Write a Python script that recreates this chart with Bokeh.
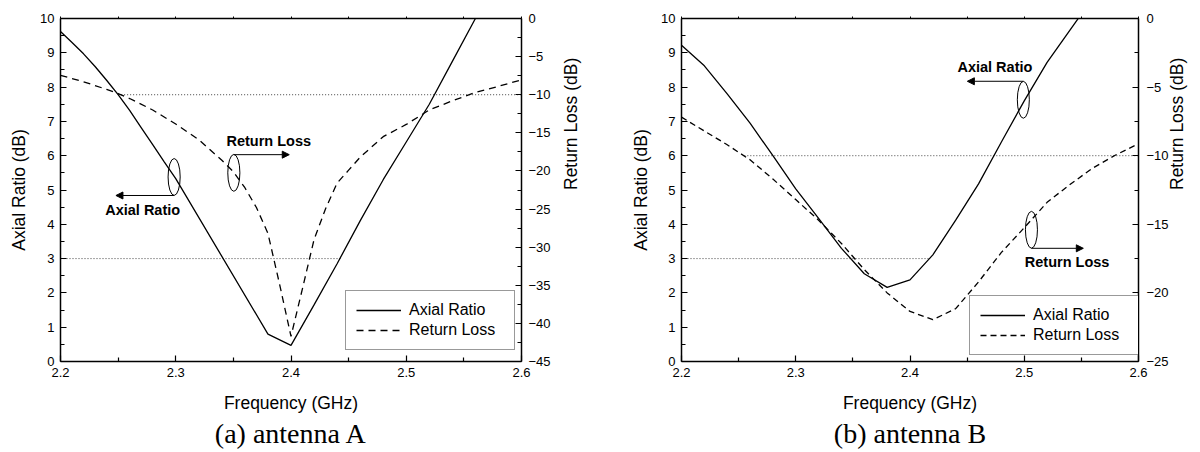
import math
from bokeh.plotting import figure
from bokeh.models import LinearAxis, Range1d, FixedTicker, Arrow, NormalHead, Title
from bokeh.layouts import row
from bokeh.embed import file_html
from bokeh.resources import INLINE
from bokeh.core.properties import value

# ---------------- data: antenna A ----------------
freq_a_ar = [2.20, 2.21, 2.22, 2.23, 2.24, 2.25, 2.26, 2.27, 2.28, 2.29, 2.30,
             2.38, 2.40, 2.42, 2.44, 2.46, 2.48, 2.50, 2.52, 2.54, 2.56]
ar_a = [9.62, 9.3, 8.97, 8.6, 8.2, 7.78, 7.32, 6.82, 6.32, 5.82, 5.33,
        0.8, 0.47, 1.65, 2.85, 4.1, 5.3, 6.4, 7.5, 8.75, 10.0]
freq_a_rl = [2.20, 2.22, 2.24, 2.25, 2.26, 2.28, 2.30, 2.32, 2.34, 2.35, 2.36, 2.37,
             2.38, 2.39, 2.40, 2.41, 2.42, 2.43, 2.44, 2.45, 2.46, 2.48, 2.50, 2.52,
             2.54, 2.56, 2.58, 2.60]
rl_a = [-7.45, -8.3, -9.3, -9.85, -10.5, -12.0, -13.85, -15.9, -18.6, -20.1, -22.2, -24.8,
        -28.2, -34.8, -41.7, -35.4, -29.0, -24.95, -21.6, -19.9, -18.2, -15.5, -13.9, -12.0,
        -10.8, -9.7, -8.9, -8.05]
# reference (dotted) lines A
ref_a_ar_x = [2.2, 2.443]
ref_a_ar_y = [3, 3]
ref_a_rl_x = [2.25, 2.6]
ref_a_rl_y = [-10, -10]

# ---------------- data: antenna B ----------------
freq_b_ar = [2.20, 2.22, 2.24, 2.26, 2.28, 2.30, 2.32, 2.34, 2.36, 2.38, 2.40, 2.42,
             2.44, 2.46, 2.48, 2.50, 2.52, 2.55]
ar_b = [9.22, 8.62, 7.8, 6.95, 6.0, 5.03, 4.17, 3.3, 2.56, 2.16, 2.38, 3.11,
        4.12, 5.18, 6.4, 7.6, 8.72, 10.13]
freq_b_rl = [2.20, 2.22, 2.24, 2.26, 2.28, 2.30, 2.32, 2.34, 2.36, 2.38, 2.40, 2.42,
             2.44, 2.46, 2.48, 2.50, 2.52, 2.54, 2.56, 2.58, 2.60]
rl_b = [-7.19, -8.2, -9.2, -10.3, -11.7, -13.2, -14.7, -16.4, -18.3, -20.0, -21.35, -21.95,
        -21.15, -19.2, -17.05, -15.25, -13.4, -12.1, -10.9, -9.95, -9.13]
ref_b_ar_x = [2.2, 2.418]
ref_b_ar_y = [3, 3]
ref_b_rl_x = [2.255, 2.6]
ref_b_rl_y = [-10, -10]

# ---------------- ticks ----------------
x_ticks = [2.2, 2.3, 2.4, 2.5, 2.6]
x_minor = [2.25, 2.35, 2.45, 2.55]
top_ticks = [2.2, 2.25, 2.3, 2.35, 2.4, 2.45, 2.5, 2.55, 2.6]
ar_ticks = [0, 1, 2, 3, 4, 5, 6, 7, 8, 9, 10]
ar_minor = [0.5, 1.5, 2.5, 3.5, 4.5, 5.5, 6.5, 7.5, 8.5, 9.5]
rl_ticks_a = [-45, -40, -35, -30, -25, -20, -15, -10, -5, 0]
rl_minor_a = [-42.5, -37.5, -32.5, -27.5, -22.5, -17.5, -12.5, -7.5, -2.5]
rl_ticks_b = [-25, -20, -15, -10, -5, 0]
rl_minor_b = [-22.5, -17.5, -12.5, -7.5, -2.5]

# ---------------- annotations (callouts) ----------------
# (ellipse x, ellipse y, arrow y, arrow end x, text x, text y, label)
callouts_a = [
    (2.2986, 5.38, 4.84, 2.2481, 2.2713, 4.43, "Axial Ratio"),
    (2.3504, 5.50, 6.03, 2.3985, 2.3807, 6.43, "Return Loss"),
]
callouts_b = [
    (2.4992, 7.63, 8.17, 2.4502, 2.4743, 8.60, "Axial Ratio"),
    (2.5063, 3.84, 3.30, 2.5517, 2.5375, 2.89, "Return Loss"),
]

SANS = "Liberation Sans"
SERIF = "Liberation Serif"


def style_axis(ax, ticks, minor, standoff, label_standoff):
    ax.ticker = FixedTicker(ticks=ticks, minor_ticks=minor)
    ax.axis_line_width = 1.5
    ax.axis_line_color = "black"
    ax.major_tick_in = 6
    ax.major_tick_out = 0
    ax.minor_tick_in = 4
    ax.minor_tick_out = 0
    ax.major_tick_line_width = 1.2
    ax.minor_tick_line_width = 1.2
    ax.major_tick_line_color = "black"
    ax.minor_tick_line_color = "black"
    ax.major_label_text_font = SANS
    ax.major_label_text_font_size = "13px"
    ax.major_label_text_color = "black"
    ax.major_label_standoff = standoff
    ax.axis_label_text_font = SANS
    ax.axis_label_text_font_size = "17.5px"
    ax.axis_label_text_font_style = "normal"
    ax.axis_label_text_color = "black"
    ax.axis_label_standoff = label_standoff


def make_panel(fa, ar, fr, rl, rax, ray, rrx, rry, rl_range, rl_ticks, rl_minor,
               callouts, caption, borders, legend_loc, dash, label_standoffs):
    bl, br, bt, bb = borders
    p = figure(width=600, height=450, x_range=Range1d(2.2, 2.6), y_range=Range1d(0, 10),
               output_backend="svg", toolbar_location=None,
               min_border_left=bl, min_border_right=br, min_border_top=bt, min_border_bottom=bb)
    p.extra_y_ranges = {"rl": Range1d(rl_range[0], rl_range[1])}
    p.xgrid.visible = False
    p.ygrid.visible = False
    p.outline_line_color = None
    p.background_fill_color = "white"
    p.border_fill_color = "white"

    style_axis(p.xaxis[0], x_ticks, x_minor, 6, 13)
    p.xaxis[0].axis_label = "Frequency (GHz)"
    style_axis(p.yaxis[0], ar_ticks, ar_minor, 6, label_standoffs[0])
    p.yaxis[0].axis_label = "Axial Ratio (dB)"

    rax_axis = LinearAxis(y_range_name="rl")
    style_axis(rax_axis, rl_ticks, rl_minor, label_standoffs[1], label_standoffs[2])
    rax_axis.axis_label = "Return Loss (dB)"
    rax_axis.axis_label_orientation = math.pi / 2
    p.add_layout(rax_axis, "right")

    # top frame edge with small tick marks only (no labels)
    top = LinearAxis()
    top.ticker = FixedTicker(ticks=[], minor_ticks=top_ticks)
    top.axis_line_width = 1.5
    top.axis_line_color = "black"
    top.major_tick_in = 0
    top.major_tick_out = 0
    top.minor_tick_in = 0
    top.minor_tick_out = 2
    top.minor_tick_line_color = "black"
    top.major_label_standoff = 0
    p.add_layout(top, "above")

    # dotted reference lines
    p.line(rax, ray, color="#444444", line_width=1, line_dash="1 2")
    p.line(rrx, rry, y_range_name="rl", color="#444444", line_width=1, line_dash="1 2")

    p.line(fa, ar, color="black", line_width=1.3, legend_label="Axial Ratio")
    p.line(fr, rl, y_range_name="rl", color="black", line_width=1.3, line_dash=dash,
           legend_label="Return Loss")

    # callouts
    ex = [c[0] for c in callouts]
    ey = [c[1] for c in callouts]
    p.ellipse(x=ex, y=ey, width=0.0105, height=1.075, fill_color=None,
              line_color="black", line_width=1)
    for (cx, cy, ay, axe, tx, ty, lab) in callouts:
        p.add_layout(Arrow(end=NormalHead(size=7, fill_color="black", line_color="black"),
                           x_start=cx, y_start=ay, x_end=axe, y_end=ay,
                           line_width=1, line_color="black"))
    p.text(x=[c[4] for c in callouts], y=[c[5] for c in callouts], text=[c[6] for c in callouts],
           text_font=value(SANS), text_font_style="bold", text_font_size="14.5px",
           text_align="center", text_baseline="middle", text_color="black")

    lg = p.legend[0]
    lg.location = legend_loc
    lg.label_text_font = SANS
    lg.label_text_font_size = "16px"
    lg.label_text_color = "black"
    lg.border_line_color = "#333333"
    lg.border_line_width = 1.5
    lg.background_fill_alpha = 1
    lg.padding = 10
    lg.margin = 0
    lg.spacing = 2
    lg.label_height = 18
    lg.glyph_height = 18
    lg.glyph_width = 45
    lg.label_standoff = 8
    lg.label_width = 95

    p.add_layout(Title(text=caption, align="center", text_font=SERIF,
                       text_font_size="28px", text_font_style="normal",
                       text_color="black", standoff=0), "below")
    return p


pa = make_panel(freq_a_ar, ar_a, freq_a_rl, rl_a, ref_a_ar_x, ref_a_ar_y, ref_a_rl_x, ref_a_rl_y,
                (-45, 0), rl_ticks_a, rl_minor_a, callouts_a, "(a) antenna A",
                (60, 79, 18, 88), (285, 11), "7 5", (8, 7, 17))
pb = make_panel(freq_b_ar, ar_b, freq_b_rl, rl_b, ref_b_ar_x, ref_b_ar_y, ref_b_rl_x, ref_b_rl_y,
                (-25, 0), rl_ticks_b, rl_minor_b, callouts_b, "(b) antenna B",
                (81, 62, 17, 89), (288, 6), "6 4", (7, 8, 5))

layout = row(pa, pb)
open("out.html", "w").write(file_html(layout, INLINE))
